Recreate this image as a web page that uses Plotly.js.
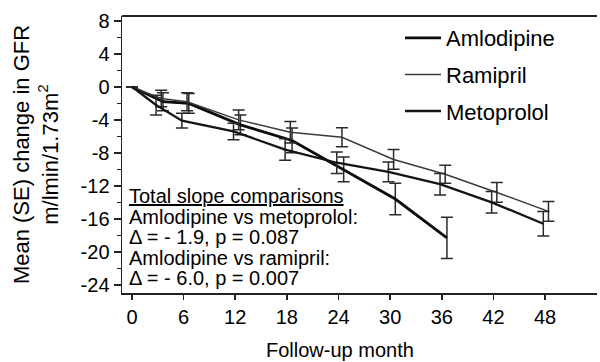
<!DOCTYPE html>
<html>
<head>
<meta charset="utf-8">
<script src="https://cdn.plot.ly/plotly-3.0.1.min.js"></script>
<style>html,body{margin:0;padding:0;background:#fff;}#chart{width:600px;height:362px;}</style>
</head>
<body>
<div id="chart"></div>
<script>
// ---- data ----
var seriesNames = ["Amlodipine", "Ramipril", "Metoprolol"];

var amlodipineMonths = [0, 3, 6, 12, 18, 24, 30, 36];
var amlodipineMean   = [0, -1.8, -2.0, -4.6, -6.5, -10.0, -13.6, -18.3];
var amlodipineSE     = [0, 1.1, 1.2, 1.2, 1.5, 1.5, 1.9, 2.5];

var ramiprilMonths = [0, 3, 6, 12, 18, 24, 30, 36, 42, 48];
var ramiprilMean   = [0, -1.4, -1.8, -4.0, -5.5, -6.1, -8.8, -10.6, -12.8, -15.1];
var ramiprilSE     = [0, 1.0, 1.1, 1.2, 1.3, 1.15, 1.2, 1.1, 1.2, 1.2];

var metoprololMonths = [0, 3, 6, 12, 18, 24, 30, 36, 42, 48];
var metoprololMean   = [0, -2.2, -4.1, -5.4, -7.6, -9.2, -10.3, -11.8, -14.0, -16.6];
var metoprololSE     = [0, 1.2, 0.9, 1.0, 1.3, 1.3, 1.2, 1.3, 1.3, 1.5];

var xTickVals = [0, 6, 12, 18, 24, 30, 36, 42, 48];
var yTickVals = [-24, -20, -16, -12, -8, -4, 0, 4, 8];
var yTickLabels = ["-24", "-20", "-16", "-12", "-8", "-4", "0", "4", "8"];

var annotationLines = [
  "<u>Total slope comparisons</u>",
  "Amlodipine vs metoprolol:",
  "Δ = - 1.9, p = 0.087",
  "Amlodipine vs ramipril:",
  "Δ = - 6.0, p = 0.007"
];

// ---- layout helpers ----
var L = 122, T = 16, R = 597, B = 293;
function px(x){ return (x - L) / (R - L); }
function py(y){ return (B - y) / (B - T); }
function shift(arr, d){ return arr.map(function(v){ return v === 0 ? v : v + d; }); }

var FONT = "Liberation Sans, Arial, Helvetica, sans-serif";

function mkTrace(name, xs, ys, se, off, color, width, group){
  return {
    type: "scatter", mode: "lines", name: name,
    x: shift(xs, off), y: ys,
    legendgroup: group,
    line: {color: color, width: width},
    error_y: {type: "data", array: se, visible: true, color: "#2a2a2a", thickness: 1.5, width: 6}
  };
}

var traces = [
  mkTrace(seriesNames[0], amlodipineMonths, amlodipineMean, amlodipineSE, 0.6, "#0d0d0d", 2.8, "a"),
  mkTrace(seriesNames[1], ramiprilMonths, ramiprilMean, ramiprilSE, 0.4, "#3a3a3a", 1.5, "b"),
  mkTrace(seriesNames[2], metoprololMonths, metoprololMean, metoprololSE, -0.2, "#141414", 2.3, "c")
];

var annotations = annotationLines.map(function(t, i){
  return {
    xref: "paper", yref: "paper", x: px(127), y: py(196 + i * 20.5),
    xanchor: "left", yanchor: "middle", showarrow: false, align: "left",
    text: t, font: {family: FONT, size: 20, color: "#000"}
  };
});
annotations.push({
  xref: "paper", yref: "paper", x: px(340), y: py(350),
  xanchor: "center", yanchor: "middle", showarrow: false,
  text: "Follow-up month", font: {family: FONT, size: 20, color: "#000"}
});

var layout = {
  width: 600, height: 362,
  margin: {l: L, r: 600 - R, t: T, b: 362 - B},
  paper_bgcolor: "#fff", plot_bgcolor: "#fff",
  font: {family: FONT, color: "#000"},
  showlegend: true,
  legend: {
    x: px(400), y: py(17), xanchor: "left", yanchor: "top",
    bgcolor: "rgba(0,0,0,0)", font: {family: FONT, size: 22, color: "#000"},
    tracegroupgap: 5, itemwidth: 36
  },
  xaxis: {
    range: [-1.16, 54.04], tickvals: xTickVals, ticks: "outside", ticklen: 5, tickwidth: 1.5,
    tickcolor: "#222", showline: true, linecolor: "#222", linewidth: 1.5,
    showgrid: false, zeroline: false, tickfont: {family: FONT, size: 20, color: "#000"}
  },
  yaxis: {
    range: [-25, 8.6], tickvals: yTickVals, ticktext: yTickLabels, ticks: "outside", ticklen: 7, tickwidth: 1.5,
    tickcolor: "#222", showline: true, linecolor: "#222", linewidth: 1.5,
    showgrid: false, zeroline: false, tickfont: {family: FONT, size: 20, color: "#000"},
    minor: {dtick: 2, tick0: 0, ticks: "outside", ticklen: 4, tickwidth: 1.5, tickcolor: "#222", showgrid: false},
    title: {text: "Mean (SE) change in GFR<br>m/lmin/1.73m<sup>2</sup>", font: {family: FONT, size: 22, color: "#000"}, standoff: 16}
  },
  shapes: [
    {type: "line", xref: "paper", yref: "paper", x0: 0, x1: 1, y0: 1, y1: 1, line: {color: "#222", width: 2}}
  ],
  annotations: annotations
};

Plotly.newPlot("chart", traces, layout, {staticPlot: true, displayModeBar: false});
</script>
</body>
</html>
